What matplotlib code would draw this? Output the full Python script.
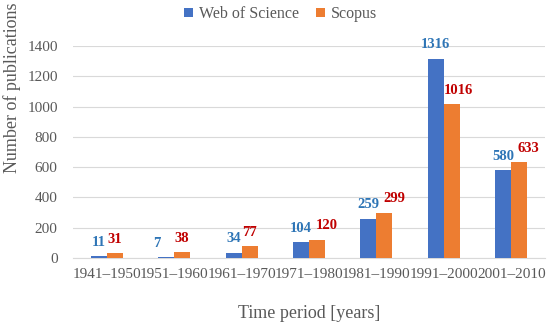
import matplotlib
matplotlib.use("Agg")
import matplotlib.pyplot as plt
import numpy as np

categories = ["1941–1950", "1951–1960", "1961–1970", "1971–1980", "1981–1990", "1991–2000", "2001–2010"]
wos = [11, 7, 34, 104, 259, 1316, 580]
scopus = [31, 38, 77, 120, 299, 1016, 633]
yticks = [0, 200, 400, 600, 800, 1000, 1200, 1400]

# horizontal nudges of the value labels (points), as placed in the original
wos_label_dx = [0, -6.5, 0, 0, 0, 0, 0]
scopus_label_dx = [0, 0, 0, 7, 7, 5, 6.5]

plt.rcParams['font.family'] = ['Liberation Serif', 'DejaVu Serif']

fig = plt.figure(figsize=(5.5, 3.25), dpi=100)
ax = fig.add_axes([73/550, 1 - 258/325, 472/550, 212/325])

x = np.arange(len(categories))
w = 0.237
b1 = ax.bar(x - w/2, wos, w, color="#4472C4", label="Web of Science", zorder=3)
b2 = ax.bar(x + w/2, scopus, w, color="#ED7D31", label="Scopus", zorder=3)

for rect, v, dx in zip(b1, wos, wos_label_dx):
    ax.annotate(str(v), (rect.get_x() + rect.get_width()/2, rect.get_height()),
                xytext=(dx, 7.5), textcoords="offset points", ha="center", va="baseline",
                color="#2E75B6", fontweight="bold", fontsize=10.5, annotation_clip=False)
for rect, v, dx in zip(b2, scopus, scopus_label_dx):
    ax.annotate(str(v), (rect.get_x() + rect.get_width()/2, rect.get_height()),
                xytext=(dx, 7.5), textcoords="offset points", ha="center", va="baseline",
                color="#C00000", fontweight="bold", fontsize=10.5, annotation_clip=False)

ax.set_xlim(-0.5, len(categories) - 0.5)
ax.set_ylim(0, 1400)
ax.set_yticks(yticks)
ax.set_xticks(x)
ax.set_xticklabels(categories)
ax.tick_params(axis="both", length=0, labelsize=11, colors="#595959")
ax.tick_params(axis="y", pad=11)
ax.tick_params(axis="x", pad=7)
ax.grid(axis="y", color="#D9D9D9", linewidth=0.8, zorder=0)
for s in ["top", "right", "left"]:
    ax.spines[s].set_visible(False)
ax.spines["bottom"].set_color("#D9D9D9")

yl = ax.set_ylabel("Number of publications", fontsize=13, color="#595959")
yl.set_va("center")
ax.yaxis.set_label_coords((12 - 73) / 472, (258 - 88) / 212)
xl = ax.set_xlabel("Time period [years]", fontsize=13, color="#595959")
xl.set_va("baseline")
ax.xaxis.set_label_coords(0.5, (258 - 318) / 212)

leg = ax.legend(loc="center", bbox_to_anchor=(0.51, 0.957), bbox_transform=fig.transFigure,
                ncol=2, frameon=False, fontsize=11.5, handlelength=0.55, handleheight=0.55,
                columnspacing=1.1, handletextpad=0.35, borderpad=0)
for t in leg.get_texts():
    t.set_color("#595959")

fig.savefig("out.png", dpi=100)
